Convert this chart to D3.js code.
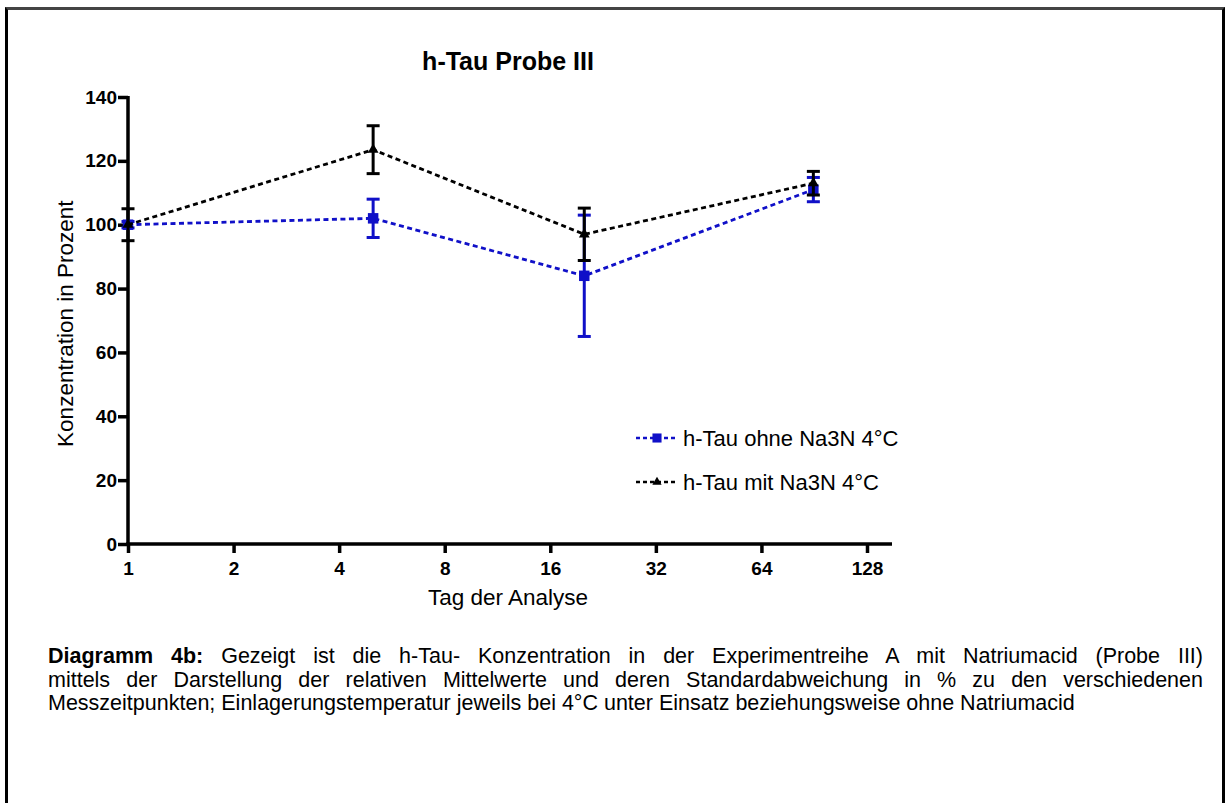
<!DOCTYPE html>
<html>
<head>
<meta charset="utf-8">
<script src="https://cdn.jsdelivr.net/npm/d3@7"></script>
<style>
  body { margin: 0; background: #fff; font-family: Arial, "Liberation Sans", sans-serif; }
  #frame { position: absolute; left: 5px; top: 7px; width: 1220px; height: 800px; border-left: 3px solid #000; border-top: 3px solid #444; border-right: 3px solid #000; box-sizing: border-box; }
  #caption { position: absolute; left: 48px; top: 645px; width: 1155px; font-size: 21.5px; line-height: 23.5px; color: #000; }
  #caption div { text-align: justify; text-align-last: justify; white-space: nowrap; }
  #caption div.last { text-align-last: left; }
</style>
</head>
<body>
<div id="frame"></div>
<svg id="chart" width="1225" height="640" style="position:absolute;left:0;top:0"></svg>
<div id="caption"></div>
<script>
const days = [1, 5, 20, 90]
const ohneMean = [100, 102, 84, 111]
const ohneSd = [1, 6, 19, 3.8]
const mitMean = [100, 123.5, 97, 113]
const mitSd = [5, 7.5, 8.2, 3.7]
const xTicks = [1, 2, 4, 8, 16, 32, 64, 128]
const yTicks = [0, 20, 40, 60, 80, 100, 120, 140]
const seriesNames = ['h-Tau ohne Na3N 4°C', 'h-Tau mit Na3N 4°C']
const captionLines = [
  ['Diagramm 4b:', ' Gezeigt ist die h-Tau- Konzentration in der Experimentreihe A mit Natriumacid (Probe III)'],
  ['', 'mittels der Darstellung der relativen Mittelwerte und deren Standardabweichung in % zu den verschiedenen'],
  ['', 'Messzeitpunkten; Einlagerungstemperatur jeweils bei 4°C unter Einsatz beziehungsweise ohne Natriumacid']
]

const font = 'Arial, Liberation Sans, sans-serif'
const svg = d3.select('#chart')

const x = d3.scaleLog().base(2)
    .domain([1, 128])
    .range([128, 867])

const y = d3.scaleLinear()
    .domain([0, 140])
    .range([544, 97])

// axes
const xAxis = svg.append('g')
    .attr('transform', `translate(0,${y(0)})`)
    .call(d3.axisBottom(x).tickValues(xTicks).tickFormat(d3.format('d')).tickSize(9).tickSizeOuter(0))
xAxis.select('.domain').remove()
xAxis.append('line')
    .attr('x1', x(1) - 1.75).attr('x2', x(128) + 25)
    .attr('stroke', '#000').attr('stroke-width', 3.5)
xAxis.selectAll('.tick line').attr('stroke-width', 3.5)
xAxis.selectAll('.tick text')
    .attr('y', 31).attr('dy', 0)
    .attr('font-size', 19).attr('font-weight', 'bold')
    .attr('font-family', font).attr('fill', '#000')

const yAxis = svg.append('g')
    .attr('transform', `translate(${x(1)},0)`)
    .call(d3.axisLeft(y).tickValues(yTicks).tickSize(10).tickSizeOuter(0))
yAxis.select('.domain').remove()
yAxis.append('line')
    .attr('y1', y(0) + 1.75).attr('y2', y(140) - 1)
    .attr('stroke', '#000').attr('stroke-width', 3.5)
yAxis.selectAll('.tick line').attr('stroke-width', 3.5)
yAxis.selectAll('.tick text')
    .attr('x', -11)
    .attr('font-size', 19).attr('font-weight', 'bold')
    .attr('font-family', font).attr('fill', '#000')

// titles
svg.append('text')
    .attr('x', 508).attr('y', 70)
    .attr('text-anchor', 'middle')
    .attr('font-size', 25).attr('font-weight', 'bold')
    .attr('font-family', font)
    .text('h-Tau Probe III')

svg.append('text')
    .attr('x', 508).attr('y', 605)
    .attr('text-anchor', 'middle')
    .attr('font-size', 22.5)
    .attr('font-family', font)
    .text('Tag der Analyse')

svg.append('text')
    .attr('transform', `translate(73,${y(69)}) rotate(-90)`)
    .attr('text-anchor', 'middle')
    .attr('font-size', 22.5)
    .attr('font-family', font)
    .text('Konzentration in Prozent')

// series
const series = [
  {name: seriesNames[0], mean: ohneMean, sd: ohneSd, color: '#1010c8', symbol: d3.symbolSquare, size: 110},
  {name: seriesNames[1], mean: mitMean, sd: mitSd, color: '#000', symbol: d3.symbolTriangle, size: 50}
]

const line = d3.line()
    .x(d => x(d.day))
    .y(d => y(d.mean))

series.forEach(s => {
  const pts = days.map((day, i) => ({day, mean: s.mean[i], sd: s.sd[i]}))
  const g = svg.append('g')

  g.append('path')
      .datum(pts)
      .attr('d', line)
      .attr('fill', 'none')
      .attr('stroke', s.color)
      .attr('stroke-width', 2.8)
      .attr('stroke-dasharray', '5,3.5')

  const eb = g.selectAll('g.err')
      .data(pts)
      .enter()
      .append('g')
      .attr('class', 'err')
      .attr('stroke', s.color)
      .attr('stroke-width', 3)
  eb.append('line')
      .attr('x1', d => x(d.day)).attr('x2', d => x(d.day))
      .attr('y1', d => y(d.mean - d.sd)).attr('y2', d => y(d.mean + d.sd))
  eb.append('line')
      .attr('x1', d => x(d.day) - 6.5).attr('x2', d => x(d.day) + 6.5)
      .attr('y1', d => y(d.mean + d.sd)).attr('y2', d => y(d.mean + d.sd))
  eb.append('line')
      .attr('x1', d => x(d.day) - 6.5).attr('x2', d => x(d.day) + 6.5)
      .attr('y1', d => y(d.mean - d.sd)).attr('y2', d => y(d.mean - d.sd))

  g.selectAll('path.pt')
      .data(pts)
      .enter()
      .append('path')
      .attr('class', 'pt')
      .attr('d', d3.symbol().type(s.symbol).size(s.size))
      .attr('transform', d => `translate(${x(d.day)},${y(d.mean)})`)
      .attr('fill', s.color)
})

// legend
const legend = svg.append('g')
    .attr('transform', 'translate(636,438)')
series.forEach((s, i) => {
  const row = legend.append('g').attr('transform', `translate(0,${i * 44})`)
  row.append('line')
      .attr('x1', 0).attr('x2', 41)
      .attr('stroke', s.color).attr('stroke-width', 2.5)
      .attr('stroke-dasharray', '4,3')
  row.append('path')
      .attr('d', d3.symbol().type(s.symbol).size(s.size * 0.75))
      .attr('transform', 'translate(21,0)')
      .attr('fill', s.color)
  row.append('text')
      .attr('x', 47).attr('y', 7.5)
      .attr('font-size', 22)
      .attr('font-family', font)
      .text(s.name)
})

// caption
const cap = d3.select('#caption')
captionLines.forEach((l, i) => {
  const div = cap.append('div').classed('last', i === captionLines.length - 1)
  if (l[0]) div.append('b').text(l[0])
  div.append('span').text(l[1])
})
</script>
</body>
</html>
